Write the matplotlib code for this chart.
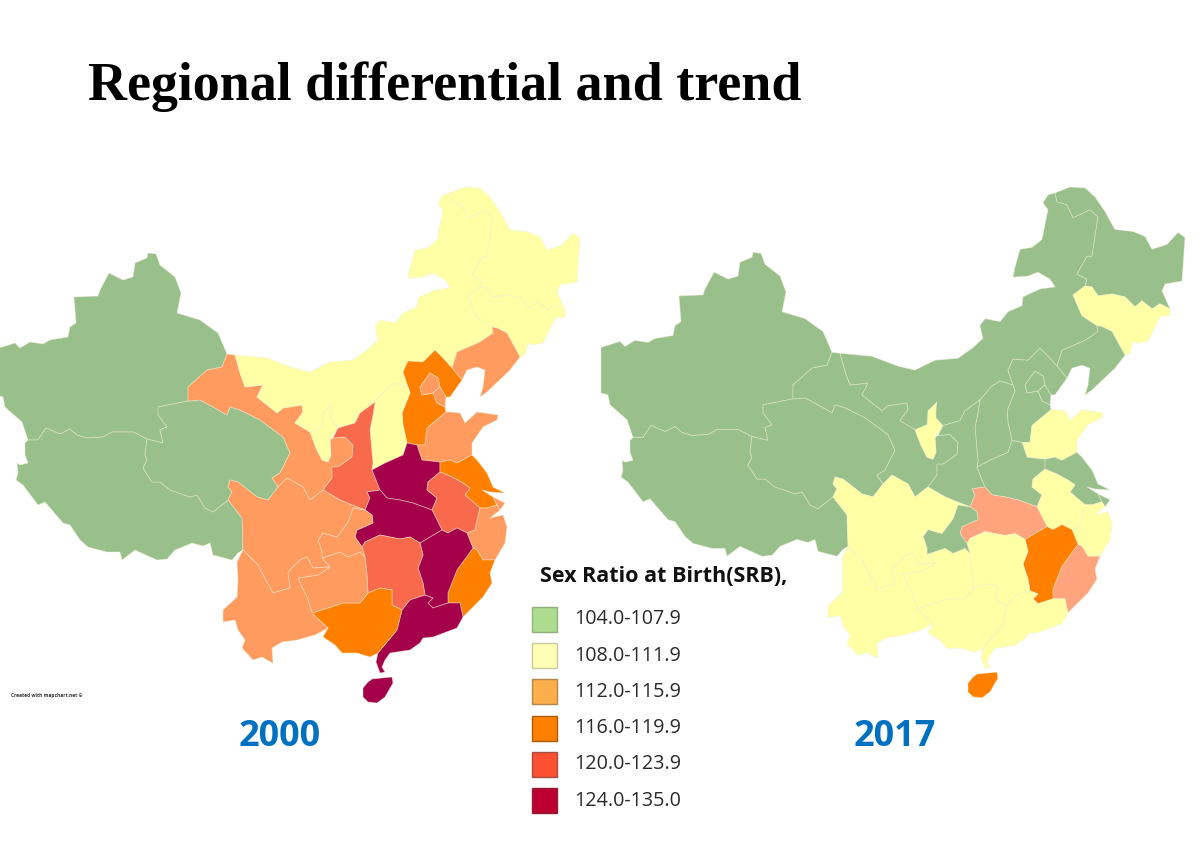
import matplotlib
matplotlib.use('Agg')
import matplotlib.pyplot as plt
import numpy as np
from matplotlib.patches import Rectangle

# province outlines, in picture pixels
xinjiang = [(-4,349),(15,343),(20,348),(30,342),(43,344),(50,340),(68,337),(70,327),(76,323),(74,297),(98,296),(100,290),(109,273),(123,280),(133,277),(135,263),(147,258),(148,253),(156,254),(160,265),(175,277),(181,293),(177,313),(200,320),(218,333),(227,354),(222,367),(207,370),(188,387),(188,401),(158,407),(158,415),(167,427),(160,430),(163,443),(147,439),(133,432),(112,432),(103,437),(87,438),(77,435),(70,429),(60,434),(46,428),(38,440),(28,440),(22,422),(5,407),(3,397),(-4,395)]
tibet = [(28,440),(38,440),(46,428),(60,434),(70,429),(77,435),(87,438),(103,437),(112,432),(133,432),(147,439),(145,455),(147,460),(143,468),(152,482),(160,482),(170,490),(190,497),(197,495),(205,508),(213,512),(228,500),(242,518),(243,550),(238,553),(232,560),(213,555),(210,543),(203,546),(192,543),(175,550),(167,559),(157,560),(135,550),(122,560),(120,552),(107,552),(88,547),(80,540),(70,525),(63,523),(45,502),(38,505),(23,485),(16,480),(18,473),(17,463),(20,465),(28,463),(25,455),(25,443)]
qinghai = [(188,401),(200,400),(213,407),(227,415),(230,407),(240,410),(260,420),(283,437),(290,453),(283,467),(280,473),(272,478),(278,487),(268,500),(257,497),(238,482),(230,480),(228,487),(232,492),(228,500),(213,512),(205,508),(197,495),(190,497),(170,490),(160,482),(152,482),(143,468),(147,460),(145,455),(147,439),(163,443),(160,430),(167,427),(158,415),(158,407)]
gansu = [(227,354),(235,355),(240,373),(245,387),(263,385),(257,397),(277,413),(283,408),(302,405),(303,412),(295,423),(310,432),(316,448),(322,460),(328,462),(331,455),(330,440),(333,438),(345,437),(353,445),(352,457),(338,467),(332,467),(332,478),(323,490),(310,500),(303,487),(287,478),(278,487),(272,478),(280,473),(283,467),(290,453),(283,437),(260,420),(240,410),(230,407),(227,415),(213,407),(200,400),(188,401),(188,387),(207,370),(222,367)]
ningxia = [(332,404),(323,413),(322,427),(310,432),(316,448),(322,460),(328,462),(331,455),(330,440),(338,428),(331,420),(331,412)]
inner_mongolia = [(235,355),(267,358),(293,368),(310,372),(330,362),(353,360),(367,350),(378,340),(375,327),(380,320),(395,323),(403,313),(417,307),(418,298),(435,290),(450,288),(445,280),(433,273),(423,277),(408,278),(410,268),(415,250),(427,248),(437,240),(443,210),(438,203),(443,195),(450,193),(452,202),(462,205),(468,218),(485,210),(493,217),(490,237),(487,257),(482,257),(472,275),(482,280),(480,287),(468,296),(477,317),(492,327),(493,333),(480,342),(457,352),(452,368),(443,358),(435,350),(423,362),(408,361),(403,372),(408,387),(395,383),(387,388),(375,402),(360,413),(355,423),(338,428),(331,420),(331,412),(332,404),(323,413),(322,427),(310,432),(295,423),(303,412),(302,405),(283,408),(277,413),(257,397),(263,385),(245,387),(240,373)]
heilongjiang = [(450,193),(465,187),(480,188),(490,197),(500,212),(510,230),(528,232),(540,237),(547,250),(562,245),(573,233),(580,238),(577,282),(560,285),(557,292),(565,310),(555,305),(547,310),(537,302),(530,308),(520,298),(507,295),(493,297),(487,288),(480,287),(482,280),(472,275),(482,257),(487,257),(490,237),(493,217),(485,210),(468,218),(462,205),(452,202)]
jilin = [(468,296),(480,287),(487,288),(493,297),(507,295),(520,298),(530,308),(537,302),(547,310),(555,305),(565,310),(565,317),(555,318),(543,343),(532,345),(528,343),(525,355),(520,357),(507,333),(497,328),(492,327),(477,317)]
liaoning = [(492,327),(497,328),(507,333),(520,357),(510,370),(487,392),(480,397),(483,387),(485,370),(477,367),(467,370),(462,380),(452,368),(457,352),(480,342),(493,333)]
hebei = [(435,350),(443,358),(452,368),(462,380),(450,397),(446,397),(440,387),(438,378),(430,373),(420,387),(422,395),(433,393),(437,403),(445,407),(446,412),(427,428),(425,445),(417,445),(407,443),(403,425),(402,413),(410,393),(408,387),(403,372),(408,361),(423,362)]
beijing = [(430,373),(420,387),(422,395),(433,393),(440,387),(438,378)]
tianjin = [(433,393),(440,387),(446,397),(445,407),(437,403)]
shanxi = [(375,402),(387,388),(395,383),(408,387),(410,393),(402,413),(403,425),(407,443),(403,455),(385,463),(372,470),(373,463),(370,430),(373,415)]
shaanxi = [(375,402),(373,415),(370,430),(373,463),(372,470),(380,490),(367,492),(370,498),(365,510),(352,505),(340,500),(323,490),(332,478),(332,467),(338,467),(352,457),(353,445),(345,437),(333,438),(338,428),(355,423),(360,413)]
shandong = [(446,412),(450,412),(460,413),(465,423),(477,412),(498,415),(497,420),(483,427),(472,443),(472,455),(457,463),(450,460),(440,462),(422,460),(417,445),(425,445),(427,428)]
henan = [(407,443),(417,445),(422,460),(440,462),(440,472),(428,482),(427,490),(437,498),(432,510),(413,503),(400,500),(387,498),(380,490),(372,470),(385,463),(403,455)]
jiangsu = [(440,462),(450,460),(457,463),(472,455),(477,460),(487,473),(493,487),(505,493),(490,492),(482,490),(493,497),(497,505),(487,508),(480,508),(465,495),(470,488),(463,483),(452,477),(440,472)]
shanghai = [(493,497),(505,503),(500,510),(497,505)]
anhui = [(440,472),(452,477),(463,483),(470,488),(465,495),(480,508),(475,530),(467,533),(457,528),(448,533),(442,530),(432,510),(437,498),(427,490),(428,482)]
zhejiang = [(480,508),(487,508),(497,505),(500,510),(490,518),(503,515),(507,527),(505,543),(495,560),(483,560),(477,550),(473,548),(467,533),(475,530)]
fujian = [(473,548),(477,550),(483,560),(495,560),(490,573),(492,583),(483,597),(463,617),(460,603),(448,603),(448,593),(457,570)]
hubei = [(367,492),(380,490),(387,498),(400,500),(413,503),(432,510),(442,530),(420,543),(410,537),(400,539),(380,535),(365,542),(362,547),(355,537),(357,530),(373,523),(372,515),(365,510),(370,498)]
jiangxi = [(420,543),(442,530),(448,533),(457,528),(467,533),(473,548),(457,570),(448,593),(448,603),(433,608),(428,603),(433,598),(425,595),(423,583),(418,568),(423,555)]
hunan = [(365,542),(380,535),(400,539),(410,537),(420,543),(423,555),(418,568),(423,583),(425,595),(410,600),(402,610),(392,605),(392,590),(380,588),(368,593),(367,575),(365,557),(362,547)]
guangdong = [(402,610),(410,600),(425,595),(433,598),(428,603),(433,608),(448,603),(460,603),(463,617),(457,628),(433,637),(423,638),(420,643),(410,650),(390,653),(385,660),(382,667),(385,672),(380,673),(376,662),(378,653),(397,630)]
guangxi = [(312,613),(328,608),(343,603),(360,603),(368,593),(380,588),(392,590),(392,605),(402,610),(397,630),(378,653),(370,657),(357,653),(342,653),(335,645),(323,637),(328,628),(317,618)]
guizhou = [(298,578),(318,575),(330,567),(322,558),(340,552),(348,557),(360,552),(365,557),(367,575),(368,593),(360,603),(343,603),(328,608),(312,613),(307,597),(300,583)]
chongqing = [(318,540),(323,533),(337,537),(348,522),(353,508),(365,510),(372,515),(373,523),(357,530),(355,537),(362,547),(365,557),(360,552),(348,557),(340,552),(322,558),(322,552)]
sichuan = [(230,480),(238,482),(257,497),(268,500),(278,487),(287,478),(303,487),(310,500),(323,490),(340,500),(352,505),(365,510),(353,508),(348,522),(337,537),(323,533),(318,540),(322,552),(322,558),(330,567),(313,568),(307,557),(300,560),(288,572),(290,588),(273,593),(262,573),(258,565),(248,555),(243,550),(242,518),(228,500),(232,492),(228,487)]
yunnan = [(243,550),(248,555),(258,565),(262,573),(273,593),(290,588),(288,572),(300,560),(307,557),(313,568),(330,567),(318,575),(298,578),(300,583),(307,597),(312,613),(317,618),(328,628),(315,635),(297,640),(282,642),(272,648),(273,663),(267,660),(262,657),(253,660),(242,648),(245,640),(238,630),(235,620),(223,622),(223,610),(237,597),(238,580),(237,562)]
hainan = [(363,688),(368,682),(372,679),(392,677),(393,683),(389,690),(385,697),(377,703),(368,702),(363,697)]

provinces = [xinjiang, tibet, qinghai, gansu, ningxia, inner_mongolia, heilongjiang, jilin, liaoning, hebei, beijing, tianjin, shanxi, shaanxi, shandong, henan, jiangsu, shanghai, anhui, zhejiang, fujian, hubei, jiangxi, hunan, guangdong, guangxi, guizhou, chongqing, sichuan, yunnan, hainan]

# class of each province, same order as provinces (0 lowest .. 5 highest)
srb_2000 = [0, 0, 0, 2, 1, 1, 1, 1, 2, 3, 2, 2, 1, 4, 2, 5, 3, 2, 4, 2, 3, 5, 5, 4, 5, 3, 2, 2, 2, 2, 5]
srb_2017 = [0, 0, 0, 0, 1, 0, 0, 1, 0, 0, 0, 0, 0, 0, 1, 0, 0, 0, 1, 1, 2, 2, 3, 1, 1, 1, 1, 0, 1, 1, 3]

map_colors = ['#99BF8A', '#FFFFA6', '#FF9B5E', '#FF8000', '#F96A4C', '#A5004A']
map_colors_2017 = ['#99BF8A', '#FFFFA6', '#FFA47C', '#FF8000', '#F96A4C', '#A5004A']

legend_labels = ['104.0-107.9', '108.0-111.9', '112.0-115.9', '116.0-119.9', '120.0-123.9', '124.0-135.0']
legend_colors = ['#AEDC8E', '#FFFFB5', '#FDAE4C', '#FF8000', '#FC5030', '#BD0030']
legend_edges = ['#8FB07A', '#C9C9A0', '#B08848', '#A85A10', '#A85040', '#8A2030']

border = (0.93, 0.93, 0.83, 0.5)

fig = plt.figure(figsize=(12, 8.41), dpi=100)
ax = fig.add_axes([0, 0, 1, 1])
ax.set_xlim(0, 1200)
ax.set_ylim(841, 0)
ax.axis('off')

for shape, c in zip(provinces, srb_2000):
    pts = np.array(shape, dtype=float)
    ax.fill(pts[:, 0], pts[:, 1], facecolor=map_colors[c], edgecolor=border, linewidth=0.6, joinstyle='round')

# the 2017 map is the same map moved right and very slightly flattened
for shape, c in zip(provinces, srb_2017):
    pts = np.array(shape, dtype=float)
    ax.fill(pts[:, 0] + 605, pts[:, 1] - 0.01 * (pts[:, 1] - 187), facecolor=map_colors_2017[c], edgecolor=border, linewidth=0.6, joinstyle='round')

ax.text(88, 87, 'Regional differential and trend', fontsize=38.9, fontweight='bold', family='Liberation Serif', color='black', va='center', ha='left')
ax.text(280, 737, '2000', fontsize=26, fontweight='bold', family='Open Sans', color='#0070C0', va='center', ha='center')
ax.text(895, 737, '2017', fontsize=26, fontweight='bold', family='Open Sans', color='#0070C0', va='center', ha='center')
ax.text(11, 695, 'Created with mapchart.net ©', fontsize=3.5, fontweight='bold', family='Open Sans', color='#333333', va='center', ha='left')

# legend, title is cut off at the right edge as in the slide
t = ax.text(540, 577, 'Sex Ratio at Birth(SRB),', fontsize=15.5, fontweight='bold', family='Open Sans', color='#111111', va='center', ha='left')
t.set_clip_path(Rectangle((530, 560), 257, 35, transform=ax.transData))
t.set_clip_on(True)
for i, (lab, col, ec) in enumerate(zip(legend_labels, legend_colors, legend_edges)):
    y = 607 + i * 36.2
    ax.add_patch(Rectangle((532, y), 25, 25, facecolor=col, edgecolor=ec, linewidth=1))
    ax.text(574, y + 12.5, lab, fontsize=14.2, family='Open Sans', color='#2A2A2A', va='center', ha='left')

fig.savefig('out.png', dpi=100)
